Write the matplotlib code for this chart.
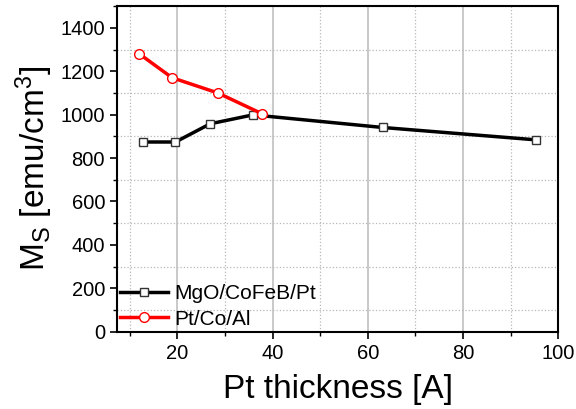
import matplotlib.pyplot as plt
from matplotlib.ticker import MultipleLocator

plt.rcParams['font.family'] = ['Liberation Sans', 'DejaVu Sans']
plt.rcParams['mathtext.fontset'] = 'custom'
plt.rcParams['mathtext.rm'] = 'Liberation Sans'
plt.rcParams['mathtext.it'] = 'Liberation Sans'

# MgO/CoFeB/Pt
x_mgo = [12.8, 19.6, 26.9, 35.9, 63.1, 95.3]
ms_mgo = [874, 874, 958, 999, 941, 884]

# Pt/Co/Al
x_pt = [12.0, 18.9, 28.5, 37.8]
ms_pt = [1280, 1170, 1100, 1004]

FONT_TICK = 14.5
FONT_LABEL = 24

fig = plt.figure(figsize=(5.76, 4.09), dpi=100)
ax = fig.add_axes([0.203, 0.189, 0.766, 0.796])

ax.plot(x_mgo, ms_mgo, '-s', color='black', lw=2.5, ms=6,
        mfc='white', mec='#333333', mew=1.0, label='MgO/CoFeB/Pt', zorder=3)
ax.plot(x_pt, ms_pt, '-o', color='#ff0000', lw=2.5, ms=7,
        mfc='white', mec='#ff0000', mew=1.0, label='Pt/Co/Al', zorder=4)

ax.set_xlim(7.3, 100)
ax.set_ylim(0, 1500)
ax.xaxis.set_major_locator(MultipleLocator(20))
ax.xaxis.set_minor_locator(MultipleLocator(10))
ax.yaxis.set_minor_locator(MultipleLocator(100))
ax.set_yticks([0, 200, 400, 600, 800, 1000, 1200, 1400])

ax.grid(True, which='major', axis='x', color='#c0c0c0', lw=1.2, ls='-')
ax.grid(True, which='minor', axis='x', color='#b8b8b8', lw=0.9, ls=':')
ax.grid(True, which='minor', axis='y', color='#b8b8b8', lw=0.9, ls=':')
ax.set_axisbelow(True)

for s in ax.spines.values():
    s.set_linewidth(1.5)
ax.tick_params(which='major', direction='out', length=5, width=1.2,
               labelsize=FONT_TICK, top=False, right=False)
ax.tick_params(which='minor', direction='out', length=3, width=1.0,
               top=False, right=False)

ax.set_xlabel('Pt thickness [A]', fontsize=FONT_LABEL, labelpad=8)
ax.set_ylabel(r'M$_\mathrm{S}$ [emu/cm$^3$]', fontsize=FONT_LABEL, labelpad=4)

ax.legend(loc='lower left', frameon=False, fontsize=15, handlelength=2.3,
          handletextpad=0.3, borderaxespad=0.0, borderpad=0.15,
          labelspacing=0.3)

plt.savefig('out.png', dpi=100)
